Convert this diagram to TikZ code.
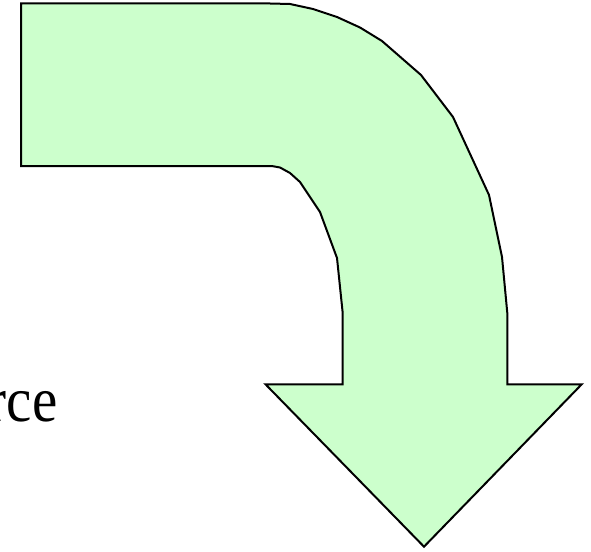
\documentclass[tikz,border=0pt]{standalone}
\usepackage{fontspec}
\setmainfont{Liberation Serif}
\definecolor{arrowgreen}{HTML}{CCFFCC}
\begin{document}
\begin{tikzpicture}[x=1pt,y=-1pt,
  bentarrow/.style={fill=arrowgreen, draw=black, line width=2pt, line join=miter},
  bigtext/.style={anchor=base east, inner sep=0pt, font=\fontsize{57}{60}\selectfont}]
\useasboundingbox (0,0) rectangle (591,551);
\clip (0,0) rectangle (591,551);
\draw[bentarrow] (21,3.5) -- (270,3.5) -- (290,4) -- (313,9) -- (337,17) -- (360,27.5) -- (382,41)
  -- (421,75) -- (453,117) -- (489,195) -- (502,257) -- (507.3,313) -- (507.3,384.3)
  -- (581.7,384.3) -- (424,546.7) -- (265.5,384.3) -- (342.7,384.3) -- (342.7,313)
  -- (337,258) -- (320,212) -- (300,182) -- (290,173) -- (280,167.5) -- (271.7,166)
  -- (21,166) -- cycle;
\node[bigtext] (label) at (57.5,421) {\scalebox{1}[1.12]{rce}};
\end{tikzpicture}
\end{document}
